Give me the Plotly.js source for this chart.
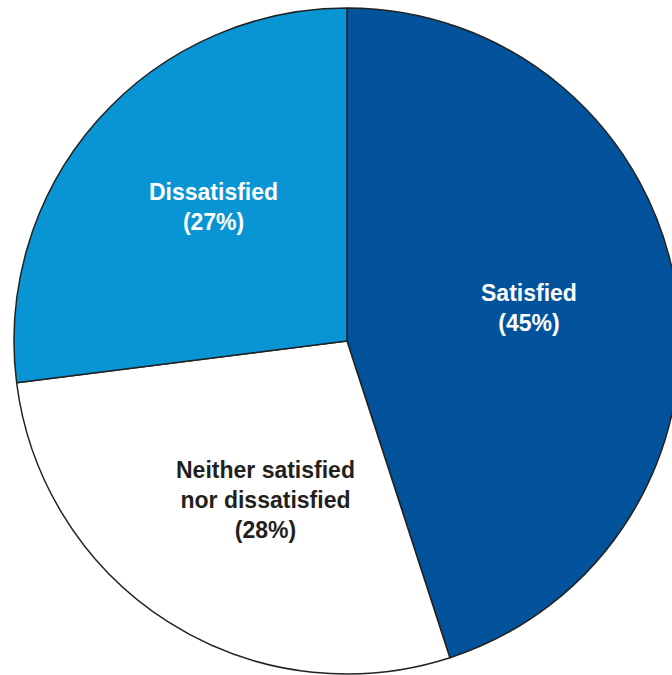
<!DOCTYPE html>
<html>
<head>
<meta charset="utf-8">
<script src="https://cdn.plot.ly/plotly-3.0.1.min.js"></script>
<style>
html,body{margin:0;padding:0;overflow:hidden;background:#fff;}
#chart{width:694px;height:675px;}
</style>
</head>
<body>
<div id="chart"></div>
<script>
const categories = ["Satisfied", "Neither satisfied<br>nor dissatisfied", "Dissatisfied"];
const values = [45, 28, 27];
const sliceColors = ["#02529c", "#ffffff", "#0994d4"];
const textColors = ["#ffffff", "#231f20", "#ffffff"];
// label anchor positions (paper coordinates) — layout only
const labelPos = [[0.7733, 0.5495], [0.3769, 0.2613], [0.2988, 0.7005]];

const total = values.reduce((a, b) => a + b, 0);
const annotations = values.map((v, i) => ({
  xref: "paper", yref: "paper",
  x: labelPos[i][0],
  y: labelPos[i][1],
  text: categories[i] + "<br>(" + Math.round(v / total * 100) + "%)",
  showarrow: false,
  xanchor: "center", yanchor: "middle",
  align: "center",
  font: {family: "Liberation Sans, Arial, sans-serif", size: 23, weight: "bold", color: textColors[i]}
}));

const data = [{
  type: "pie",
  labels: categories,
  values: values,
  sort: false,
  direction: "clockwise",
  rotation: 0,
  textinfo: "none",
  hoverinfo: "label+percent",
  marker: {colors: sliceColors, line: {color: "#222222", width: 1.5}}
}];

const layout = {
  width: 694, height: 675,
  margin: {l: 14, r: 14, t: 8, b: 1},
  showlegend: false,
  paper_bgcolor: "#ffffff",
  annotations: annotations
};

Plotly.newPlot("chart", data, layout, {displayModeBar: false, staticPlot: true});
</script>
</body>
</html>
